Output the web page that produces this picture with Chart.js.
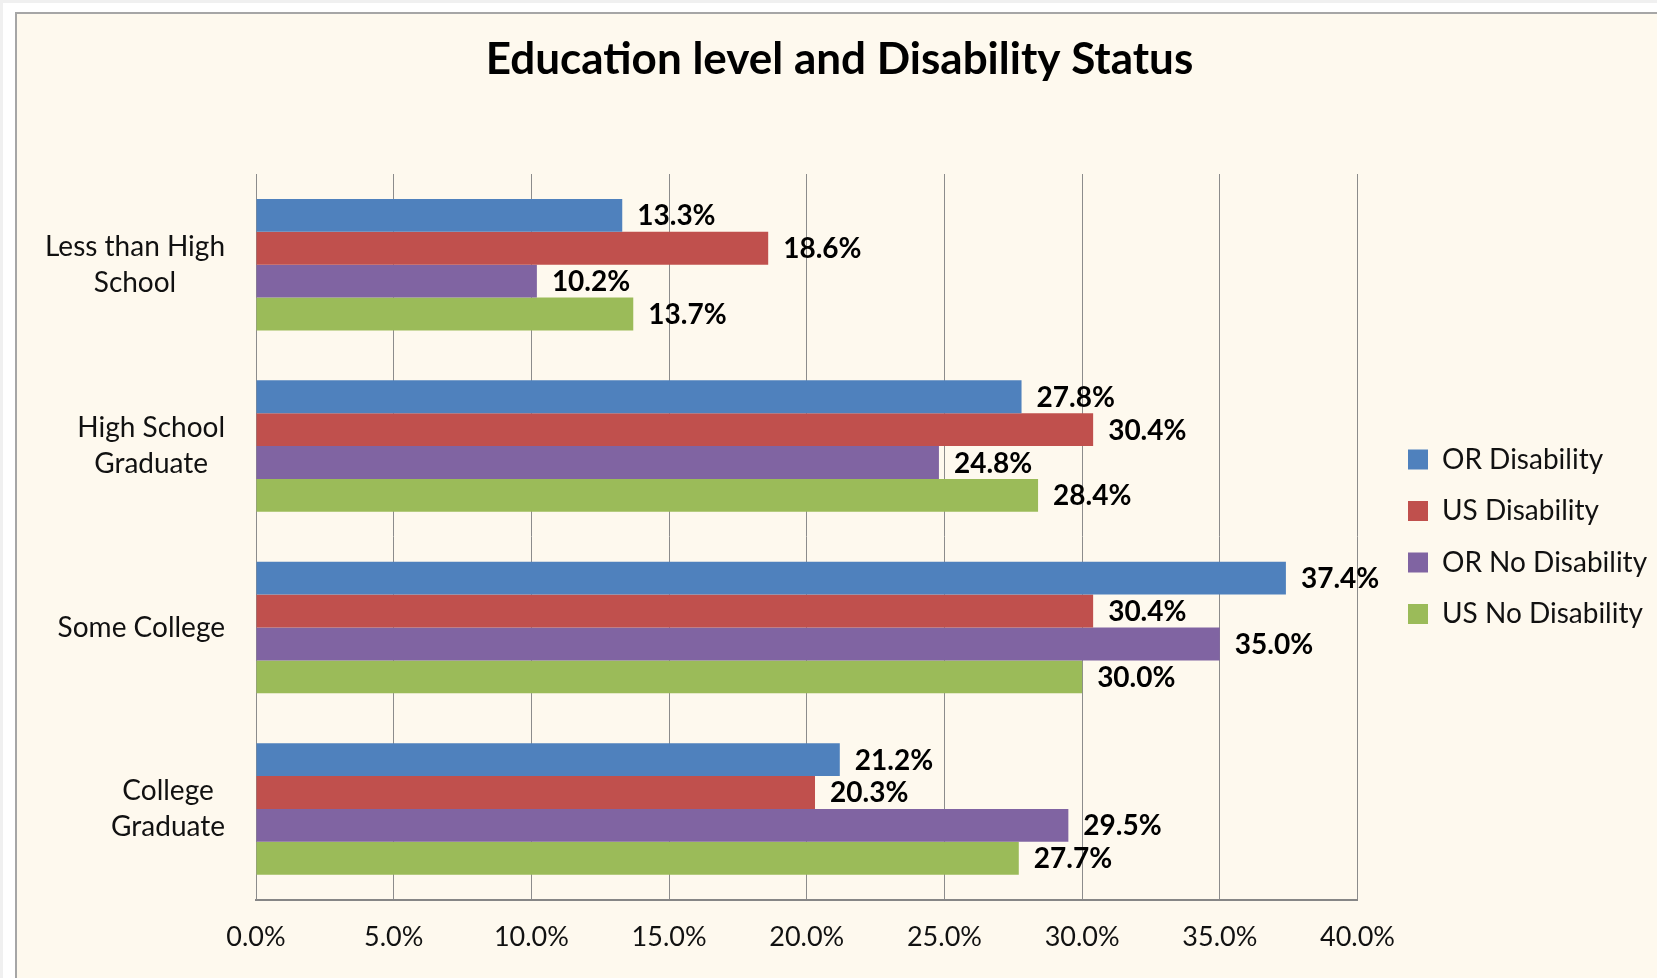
<!DOCTYPE html>
<html lang="en">
<head>
  <meta charset="UTF-8" />
  <title>Education level and Disability Status</title>
  <style>
    html { background: #f0f0f0; }
    body {
      margin: 0;
      position: relative;
      width: 1657px;
      height: 978px;
      overflow: hidden;
      font-family: 'Lato', sans-serif;
    }
    .fondo {
      position: absolute;
      left: 3px; top: 3px; right: 0; bottom: 0;
      background: #ffffff;
    }
    .marco {
      position: absolute;
      left: 15px; top: 12px;
      width: 1700px; height: 1000px;
      border-left: 2px solid #a6a6a6;
      border-top: 2px solid #a6a6a6;
      background: #fef9ee;
    }
    canvas { position: absolute; left: 0; top: 0; }
  </style>
</head>
<body>
  <div class="fondo"></div>
  <div class="marco"></div>
  <canvas id="grafica" width="1657" height="978"></canvas>
  <script src="https://cdn.jsdelivr.net/npm/chart.js"></script>
  <script>
    const categories = [['Less than High', 'School'], ['High School', 'Graduate'], ['Some College'], ['College', 'Graduate']];
    const seriesNames = ['OR Disability', 'US Disability', 'OR No Disability', 'US No Disability'];
    const orDisability = [13.3, 27.8, 37.4, 21.2];
    const usDisability = [18.6, 30.4, 30.4, 20.3];
    const orNoDisability = [10.2, 24.8, 35.0, 29.5];
    const usNoDisability = [13.7, 28.4, 30.0, 27.7];
    const xMin = 0, xMax = 40, xStep = 5;

    const colores = ['#4f81bd', '#c0504d', '#8064a2', '#9bbb59'];
    const series = [orDisability, usDisability, orNoDisability, usNoDisability];

    // category labels: block right-aligned at the axis, lines centered in the block
    const etiquetasCategoria = {
      id: 'etiquetasCategoria',
      afterDraw(chart) {
        const ctx = chart.ctx;
        const y = chart.scales.y;
        ctx.save();
        ctx.font = '28px Lato';
        ctx.fillStyle = '#111';
        ctx.textAlign = 'center';
        ctx.textBaseline = 'middle';
        const derecha = chart.chartArea.left - 31;
        const alto = 36;
        categories.forEach((lineas, i) => {
          const cy = y.getPixelForTick(i);
          const ancho = Math.max(...lineas.map(l => ctx.measureText(l).width));
          const cx = derecha - ancho / 2;
          lineas.forEach((l, k) => {
            ctx.fillText(l, cx, cy + (k - (lineas.length - 1) / 2) * alto);
          });
        });
        ctx.restore();
      }
    };

    // value labels just past the end of each bar
    const etiquetasValor = {
      id: 'etiquetasValor',
      afterDatasetsDraw(chart) {
        const ctx = chart.ctx;
        ctx.save();
        ctx.font = 'bold 28px Lato';
        ctx.fillStyle = '#000';
        ctx.textAlign = 'left';
        ctx.textBaseline = 'middle';
        chart.data.datasets.forEach((ds, d) => {
          chart.getDatasetMeta(d).data.forEach((barra, i) => {
            ctx.fillText(ds.data[i].toFixed(1) + '%', barra.x + 15, barra.y + 1);
          });
        });
        ctx.restore();
      }
    };

    new Chart(document.getElementById('grafica'), {
      type: 'bar',
      data: {
        labels: categories,
        datasets: series.map((valores, i) => ({
          label: seriesNames[i],
          data: valores,
          backgroundColor: colores[i],
          categoryPercentage: 0.725,
          barPercentage: 1.0
        }))
      },
      options: {
        indexAxis: 'y',
        responsive: false,
        animation: false,
        layout: { padding: { top: 14, left: 22, right: 0, bottom: 4 } },
        scales: {
          x: {
            min: xMin,
            max: xMax,
            ticks: {
              stepSize: xStep,
              color: '#111',
              font: { family: 'Lato', size: 27 },
              padding: 21,
              callback: v => v.toFixed(1) + '%'
            },
            grid: { color: '#8c8c8c', lineWidth: 1, drawTicks: false },
            border: { color: '#868686', width: 2 }
          },
          y: {
            ticks: { display: false },
            grid: { display: false },
            border: { color: '#8c8c8c', width: 1 },
            afterFit: s => { s.width = 234; }
          },
          hueco: {
            type: 'linear',
            position: 'right',
            display: true,
            ticks: { display: false },
            grid: { display: false },
            border: { display: false },
            afterFit: s => { s.width = 27; }
          }
        },
        plugins: {
          title: {
            display: true,
            text: 'Education level and Disability Status',
            color: '#000',
            font: { family: 'Lato', size: 44, weight: 'bold' },
            padding: { top: 19.6, bottom: 87.6 }
          },
          legend: {
            position: 'right',
            fullSize: false,
            labels: {
              boxWidth: 20,
              boxHeight: 20,
              padding: 23.5,
              color: '#111',
              font: { family: 'Lato', size: 28 }
            }
          },
          tooltip: { enabled: false }
        }
      },
      plugins: [etiquetasCategoria, etiquetasValor]
    });
  </script>
</body>
</html>
